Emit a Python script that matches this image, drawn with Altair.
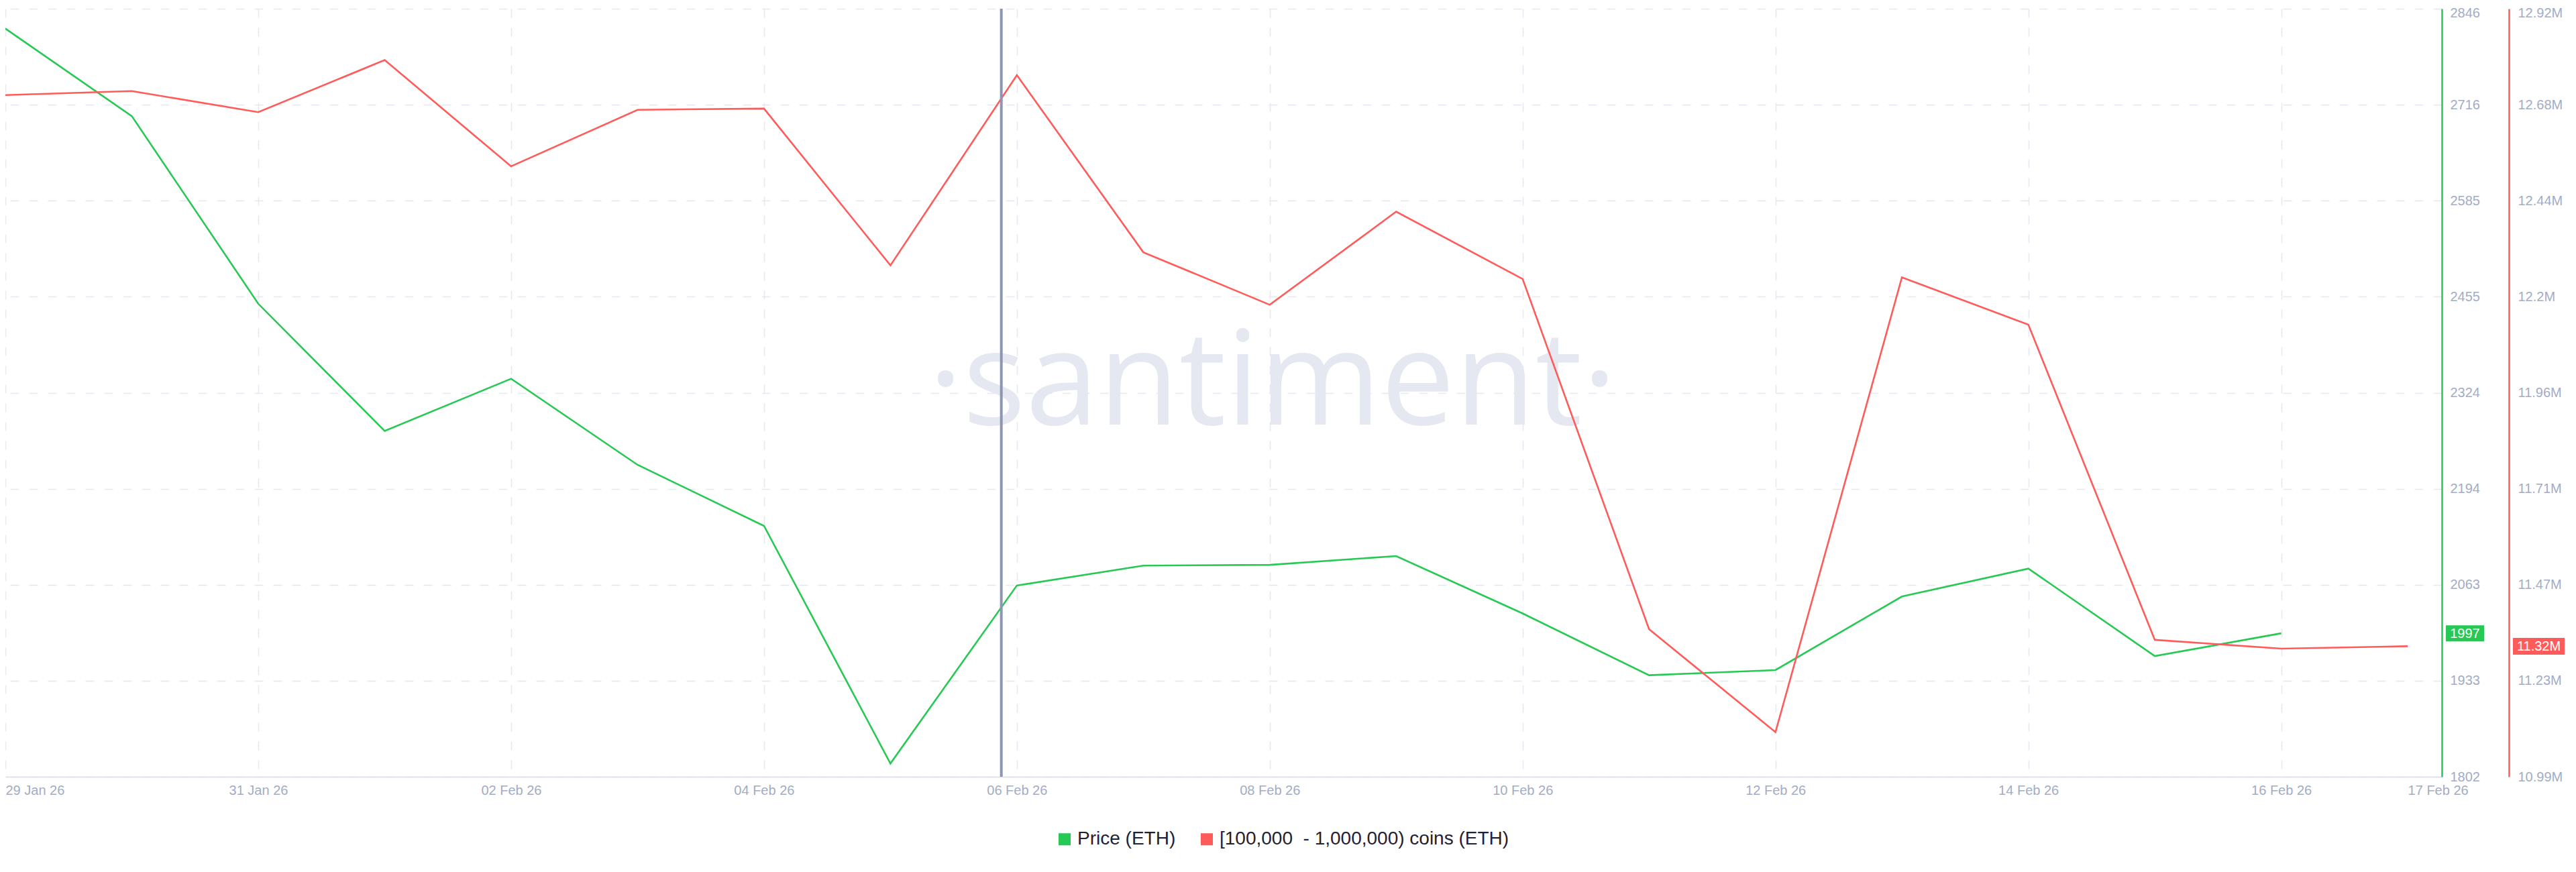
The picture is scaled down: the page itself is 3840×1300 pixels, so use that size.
import json
import altair as alt
import pandas as pd

# ---------------- data ----------------
dates = ["2026-01-29", "2026-01-30", "2026-01-31", "2026-02-01", "2026-02-02",
         "2026-02-03", "2026-02-04", "2026-02-05", "2026-02-06", "2026-02-07",
         "2026-02-08", "2026-02-09", "2026-02-10", "2026-02-11", "2026-02-12",
         "2026-02-13", "2026-02-14", "2026-02-15", "2026-02-16", "2026-02-17"]
price = [2819, 2700, 2445, 2272, 2343, 2226, 2143, 1820, 2062, 2089,
         2090, 2102, 2024, 1940, 1947, 2047, 2085, 1966, 1997]
holders_m = [12.703, 12.713, 12.660, 12.791, 12.524, 12.666, 12.669, 12.275, 12.753, 12.308,
             12.176, 12.410, 12.241, 11.361, 11.102, 12.245, 12.126, 11.334, 11.312, 11.318]

series_names = ["Price (ETH)", "[100,000\u00a0 - 1,000,000) coins (ETH)"]
series_colors = ["#26c953", "#ff5b5b"]

x_tick_dates = ["2026-01-29", "2026-01-31", "2026-02-02", "2026-02-04", "2026-02-06",
                "2026-02-08", "2026-02-10", "2026-02-12", "2026-02-14", "2026-02-16",
                "2026-02-17"]
x_tick_labels = ["29 Jan 26", "31 Jan 26", "02 Feb 26", "04 Feb 26", "06 Feb 26",
                 "08 Feb 26", "10 Feb 26", "12 Feb 26", "14 Feb 26", "16 Feb 26",
                 "17 Feb 26"]
price_ticks = [1802, 1932.5, 2063, 2193.5, 2324, 2454.5, 2585, 2715.5, 2846]
price_tick_labels = ["1802", "1933", "2063", "2194", "2324", "2455", "2585", "2716", "2846"]
holder_ticks = [10.99, 11.23125, 11.4725, 11.71375, 11.955, 12.19625, 12.4375, 12.67875, 12.92]
holder_tick_labels = ["10.99M", "11.23M", "11.47M", "11.71M", "11.96M", "12.2M",
                      "12.44M", "12.68M", "12.92M"]
cursor_time = "2026-02-05T21:03"
x_end_time = "2026-02-17T06:29"
watermark_text = "\u00b7santiment\u00b7"

# ---------------- derived tables ----------------
t0 = pd.Timestamp(dates[0])
def to_day(s):
    return float((pd.Timestamp(s) - t0) / pd.Timedelta(days=1))

days = [to_day(d) for d in dates]
x_tick_days = [to_day(d) for d in x_tick_dates]
x_max = to_day(x_end_time)
cursor_day = to_day(cursor_time)

price_df = pd.DataFrame({"day": days[:len(price)], "price": price, "series": series_names[0]})
hold_df = pd.DataFrame({"day": days, "holders": holders_m, "series": series_names[1]})
price_last = price_df.tail(1)
hold_last = hold_df.tail(1)

# ---------------- styles ----------------
W, H = 3632, 1145
PAD = {"left": 0, "top": 5, "right": 192, "bottom": 134}
FONT = "Liberation Sans"
LABEL = "#a3acc5"
GRID = "#e6e8f1"
DASH = [13, 15]

def lookup_expr(labels, values):
    return f"{json.dumps(labels)}[indexof({json.dumps(values)}, datum.value)]"

def top_offset(top_value):
    # keep the topmost label inside the page
    return {"condition": {"test": f"datum.value == {top_value}", "value": 6}, "value": 0}

edge_test = f"datum.value == {x_tick_days[0]} || datum.value == {x_tick_days[-1]}"

x_axis = alt.Axis(
    values=x_tick_days,
    labelExpr=lookup_expr(x_tick_labels, x_tick_days),
    title=None, ticks=False, grid=True, gridColor=GRID, gridDash=DASH, gridWidth=1.5,
    gridOpacity={"condition": {"test": f"datum.value == {x_tick_days[-1]}", "value": 0}, "value": 1},
    domainColor="#e0e3ec", domainWidth=2,
    labelAlign={"condition": {"test": edge_test, "value": "left"}, "value": "center"},
    labelColor=LABEL, labelFont=FONT, labelFontSize=20, labelPadding=10,
    labelFlush=False, labelOverlap=False,
)
x_scale = alt.Scale(domain=[0, x_max], nice=False, zero=False)

color_scale = alt.Scale(domain=series_names, range=series_colors)
legend = alt.Legend(
    title=None, orient="none", legendX=1565, legendY=1224, direction="horizontal",
    symbolType="square", symbolSize=81, symbolStrokeWidth=9,
    labelFont=FONT, labelFontSize=28, labelColor="#1f2134", labelLimit=0,
    labelOffset=5, columnPadding=23, padding=0,
)
color_enc = alt.Color("series:N", scale=color_scale, legend=legend)

# ---------------- price layer ----------------
price_scale = alt.Scale(domain=[price_ticks[0], price_ticks[-1]], nice=False, zero=False)
price_axis = alt.Axis(
    orient="right", values=price_ticks, labelExpr=lookup_expr(price_tick_labels, price_ticks),
    title=None, ticks=False, grid=True, gridColor=GRID, gridDash=DASH, gridWidth=1.5,
    domainColor=series_colors[0], domainWidth=2.5,
    labelAlign="left", labelBaseline="middle", labelPadding=12,
    labelOffset=top_offset(price_ticks[-1]),
    labelColor=LABEL, labelFont=FONT, labelFontSize=20, labelFlush=False, labelOverlap=False,
)
y_price = alt.Y("price:Q", scale=price_scale, axis=price_axis)

price_line = alt.Chart(price_df).mark_line(strokeWidth=2.6).encode(
    x=alt.X("day:Q", scale=x_scale, axis=x_axis),
    y=y_price,
    color=color_enc,
)
price_badge = alt.Chart(price_last).mark_tick(
    orient="horizontal", thickness=24, color=series_colors[0], opacity=1
).encode(x=alt.value(3666.5), y=y_price, size=alt.value(57))
price_badge_text = alt.Chart(price_last).mark_text(
    color="white", font=FONT, fontSize=20, align="center", baseline="middle", dy=1
).encode(x=alt.value(3666.5), y=y_price, text=alt.Text("price:Q", format=".0f"))
price_layer = alt.layer(price_line, price_badge, price_badge_text)

# ---------------- holders layer ----------------
hold_scale = alt.Scale(domain=[holder_ticks[0], holder_ticks[-1]], nice=False, zero=False)
hold_axis = alt.Axis(
    orient="right", offset=100, values=holder_ticks,
    labelExpr=lookup_expr(holder_tick_labels, holder_ticks),
    title=None, ticks=False, grid=False,
    domainColor=series_colors[1], domainWidth=2.5,
    labelAlign="left", labelBaseline="middle", labelPadding=13,
    labelOffset=top_offset(holder_ticks[-1]),
    labelColor=LABEL, labelFont=FONT, labelFontSize=20, labelFlush=False, labelOverlap=False,
)
y_hold = alt.Y("holders:Q", scale=hold_scale, axis=hold_axis)

hold_line = alt.Chart(hold_df).mark_line(strokeWidth=2.6).encode(
    x=alt.X("day:Q", scale=x_scale, axis=x_axis),
    y=y_hold,
    color=color_enc,
)
hold_badge = alt.Chart(hold_last).mark_tick(
    orient="horizontal", thickness=25, color=series_colors[1], opacity=1
).encode(x=alt.value(3776.5), y=y_hold, size=alt.value(77))
hold_badge_text = alt.Chart(hold_last).transform_calculate(
    lab="format(datum.holders, '.2f') + 'M'"
).mark_text(
    color="white", font=FONT, fontSize=20, align="center", baseline="middle", dy=1
).encode(x=alt.value(3776.5), y=y_hold, text="lab:N")
hold_layer = alt.layer(hold_line, hold_badge, hold_badge_text)

# ---------------- decorations ----------------
watermark = alt.Chart(pd.DataFrame({"t": [watermark_text]})).mark_text(
    font="Open Sans", fontSize=196, color="#e5e8f1", align="center", baseline="alphabetic"
).encode(x=alt.value(1889), y=alt.value(620), text="t:N")

cursor = alt.Chart(pd.DataFrame({"day": [cursor_day]})).mark_rule(
    color="#8e94b4", strokeWidth=4
).encode(x=alt.X("day:Q", scale=x_scale, axis=x_axis))

chart = alt.layer(watermark, price_layer, hold_layer, cursor).resolve_scale(
    y="independent"
).properties(
    width=W, height=H, padding=PAD,
    autosize=alt.AutoSizeParams(type="none"),
    background="white",
).configure_view(stroke=None)

chart.save("out.html", embed_options={"renderer": "svg", "actions": False})
